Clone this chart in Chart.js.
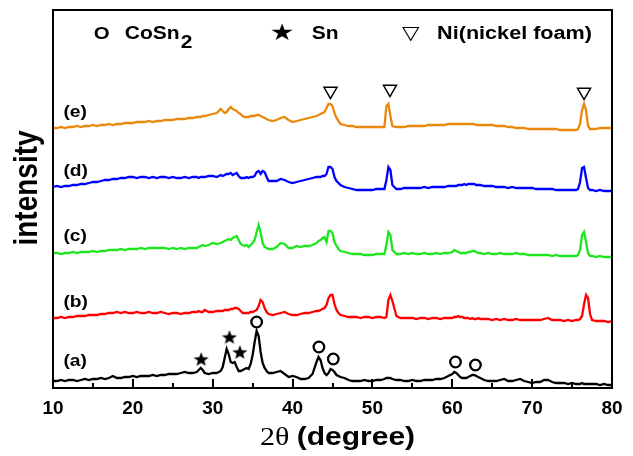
<!DOCTYPE html>
<html>
<head>
<meta charset="utf-8">
<script src="https://cdn.jsdelivr.net/npm/chart.js@4/dist/chart.umd.min.js"></script>
<style>
  html, body { margin: 0; padding: 0; background: #fff; }
</style>
</head>
<body>
<canvas id="xrd" width="633" height="456"></canvas>
<script>
// 2-theta grid (degrees), finer around the peaks
const twoTheta = [
  10,10.5,11,11.5,12,12.5,13,13.5,14,14.5,15,15.5,16,16.5,17,17.5,18,18.5,19,19.5,20,20.5,21,21.5,22,22.5,23,23.5,24,24.5,25,25.5,26,26.5,27,27.5,
  28,28.25,28.5,28.75,29,
  29.5,30,30.5,
  31,31.25,31.5,31.75,32,32.25,32.5,32.75,33,33.25,33.5,33.75,34,34.25,34.5,34.75,35,35.25,35.5,35.75,36,36.25,36.5,36.75,37,
  37.5,38,38.5,39,39.5,40,40.5,41,41.5,42,42.5,
  43,43.25,43.5,43.75,44,44.25,44.5,44.75,45,45.25,45.5,45.75,46,
  46.5,47,47.5,48,48.5,49,49.5,50,50.5,51,51.5,
  51.75,52,52.25,52.5,
  53,53.5,54,54.5,55,55.5,56,56.5,57,57.5,58,58.5,59,59.5,
  60,60.25,60.5,60.75,61,61.25,61.5,61.75,62,62.25,62.5,62.75,63,63.25,63.5,
  64,64.5,65,65.5,66,66.5,67,67.5,68,68.5,69,69.5,70,70.5,71,71.5,72,72.5,73,73.5,74,74.5,75,75.5,
  75.75,76,76.25,76.5,76.75,77,77.25,
  77.5,78,78.5,79,79.5,80
];

// stacked intensities (a.u., already offset)
const seriesA = [
  7,7,8,7,8,8,7,8,9,8,9,9,10,9,10,12,10,10,11,11,12,11,12,12,12,13,12,13,13,14,14,14,15,16,15,15,
  16,18,20,18,15,
  14,15,15,
  17,21,30,39,34,26,25,26,21,17,17,18,19,20,19,24,33,46,57,52,36,25,20,17,15,
  15,16,17,14,11,12,11,9,9,10,14,
  26,31,28,20,15,13,15,19,18,16,13,12,11,
  10,8,7,7,7,8,7,7,8,8,9,
  10,10,10,9,
  8,8,7,7,8,7,7,8,8,8,9,9,10,12,
  14,16,15,13,11,10,10,10,11,12,13,13,12,11,10,
  8,7,7,7,8,9,7,7,8,9,7,6,5,6,6,8,8,6,5,5,5,4,5,4,
  4,4,5,4,4,4,4,
  4,4,3,4,3,3
];
const seriesB = [
  70,70,71,70,71,71,72,72,72,73,73,73,74,74,75,75,76,75,76,75,75,76,75,75,76,75,75,76,75,74,75,75,74,75,75,76,
  76,77,76,76,78,
  76,76,77,
  77,77,78,78,78,79,79,80,80,79,77,75,75,75,75,76,76,77,78,82,88,86,80,76,74,
  73,74,75,76,74,73,73,74,75,75,76,
  77,77,78,79,80,83,90,93,93,84,78,75,73,
  72,71,71,71,70,71,71,70,71,71,70,
  71,88,93,87,
  72,70,70,70,70,69,70,70,69,70,70,69,70,70,
  70,71,71,72,71,71,70,70,70,69,70,69,69,70,69,
  69,69,68,69,68,69,68,68,69,68,68,68,68,68,68,69,70,68,68,68,67,68,67,68,
  68,69,72,84,93,90,74,
  68,67,67,67,66,67
];
const seriesC = [
  135,135,134,135,135,136,135,136,136,136,137,136,137,137,138,138,138,139,138,139,139,139,140,139,140,140,140,140,140,139,140,139,140,139,140,140,
  140,141,142,143,142,
  143,145,144,
  145,146,147,148,149,148,150,151,152,148,144,143,142,143,141,143,145,148,156,163,155,145,141,140,139,
  139,141,145,144,140,140,142,141,142,142,143,
  145,147,148,150,151,146,157,157,155,146,142,139,137,
  136,135,134,134,134,133,133,133,134,134,134,
  143,156,153,138,
  134,134,135,134,135,134,134,135,134,134,135,134,135,135,
  136,138,137,136,135,135,135,135,136,136,137,137,136,135,135,
  134,135,134,134,135,134,134,134,135,134,134,133,133,133,133,133,133,132,133,132,132,132,132,132,
  133,138,153,156,146,135,132,
  132,131,132,131,131,131
];
const seriesD = [
  201,202,201,202,202,203,203,204,204,205,206,206,207,208,208,209,209,210,210,211,211,210,211,211,210,211,210,211,211,210,211,210,210,211,210,211,
  211,210,211,211,211,
  212,212,211,
  213,212,213,214,214,215,213,214,215,212,210,210,210,211,210,211,211,212,216,217,214,217,216,211,207,
  207,207,209,208,206,205,206,207,208,209,210,
  211,211,211,212,212,214,221,221,219,211,207,205,203,
  201,200,199,198,198,198,198,198,199,199,199,
  208,221,218,203,
  199,199,200,200,200,200,200,201,200,201,201,201,201,202,
  202,202,202,203,203,203,204,203,204,204,204,204,203,203,203,
  202,202,202,201,201,201,200,201,200,200,200,200,200,199,199,199,199,199,198,198,198,198,198,198,
  199,206,220,221,210,200,198,
  198,197,198,197,197,197
];
const seriesE = [
  260,260,261,260,261,261,262,261,262,262,263,262,263,263,264,263,264,264,265,265,265,266,266,266,267,266,267,267,268,268,268,269,269,269,270,270,
  271,271,271,272,272,
  273,274,275,
  279,277,275,276,279,281,279,278,277,275,274,272,271,271,271,272,272,272,273,273,272,271,270,269,268,
  267,268,270,271,268,266,267,268,269,270,271,
  272,273,274,275,276,280,284,284,282,275,270,267,264,
  263,262,262,261,261,261,261,261,261,261,261,
  282,284,272,262,
  261,261,261,262,262,262,262,262,263,263,263,263,263,264,
  264,264,264,264,264,264,264,264,264,264,264,264,263,263,263,
  263,263,263,262,262,262,261,261,260,260,260,259,259,259,259,259,259,259,259,258,258,258,258,258,
  259,264,278,284,278,262,259,
  259,259,260,260,260,260
];

const seriesNames = ['(a)', '(b)', '(c)', '(d)', '(e)'];
const seriesColors = ['#000000', '#ff0000', '#1ee61e', '#0000ff', '#e8890c'];
const labelTheta = 11.3;
const labelHeights = [26, 85, 151, 216, 275];

// phase markers above the peaks
const cosn2Theta = [35.5, 43.3, 45.1, 60.4, 62.9];
const cosn2Height = [66, 41, 29, 26, 23];
const snTheta = [28.55, 32.1, 33.4];
const snHeight = [29, 51, 36];
const niTheta = [44.75, 52.2, 76.5];
const niHeight = [297, 299, 296];

// legend row (2-theta positions, height)
const legendHeight = 354;
const legendTheta = { circle: 15.1, cosn2: 19.0, star: 38.7, sn: 42.4, tri: 54.8, ni: 58.1 };

const xTicks = [10, 15, 20, 25, 30, 35, 40, 45, 50, 55, 60, 65, 70, 75, 80];

const SANS = "'Liberation Sans', Arial, sans-serif";
const STRETCH = 1.2; // the source figure is a bit wide

function pts(xs, ys) {
  return xs.map((v, i) => ({ x: v, y: ys[i] }));
}

// draw text stretched along x
function wideText(ctx, text, x, y, sx) {
  ctx.save();
  ctx.translate(x, y);
  ctx.scale(sx, 1);
  ctx.fillText(text, 0, 0);
  ctx.restore();
  return ctx.measureText(text).width * sx;
}

// filled five-point star as point image
function starImage(w, h) {
  const c = document.createElement('canvas');
  c.width = w; c.height = h;
  const g = c.getContext('2d');
  const cx = w / 2, cy = h / 2 + 0.8;
  g.beginPath();
  for (let i = 0; i < 10; i++) {
    const ang = -Math.PI / 2 + i * Math.PI / 5;
    const k = i % 2 === 0 ? 1 : 0.42;
    g.lineTo(cx + k * (w / 2) * Math.cos(ang), cy + k * (h / 2) * Math.sin(ang));
  }
  g.closePath();
  g.fillStyle = '#000';
  g.fill();
  return c;
}

const series = [seriesA, seriesB, seriesC, seriesD, seriesE];
const lineSets = series.map((s, i) => ({
  type: 'line',
  label: seriesNames[i],
  data: pts(twoTheta, s),
  borderColor: seriesColors[i],
  borderWidth: 2.3,
  pointRadius: 0,
  tension: 0,
  fill: false
}));

const markerSets = [
  {
    type: 'scatter', label: 'CoSn2', data: pts(cosn2Theta, cosn2Height),
    pointStyle: 'circle', pointRadius: 5.3, borderWidth: 2.3,
    borderColor: '#000', backgroundColor: '#fff'
  },
  {
    type: 'scatter', label: 'Sn', data: pts(snTheta, snHeight),
    pointStyle: starImage(16, 15), pointRadius: 8
  },
  {
    type: 'scatter', label: 'Ni', data: pts(niTheta, niHeight),
    pointStyle: 'triangle', rotation: 180, pointRadius: 7.5, borderWidth: 1.5,
    borderColor: '#000', backgroundColor: '#fff'
  }
];

const decorations = {
  id: 'decorations',
  afterDatasetsDraw(chart) {
    const { ctx, chartArea: a, scales: { x, y } } = chart;
    ctx.save();
    ctx.strokeStyle = '#000';
    ctx.lineWidth = 2;
    ctx.strokeRect(a.left, a.top, a.right - a.left, a.bottom - a.top);

    // ticks point up, inside the frame
    xTicks.forEach(v => {
      const px = Math.round(x.getPixelForValue(v));
      const len = v % 10 === 0 ? 9 : 5;
      ctx.beginPath();
      ctx.moveTo(px, a.bottom);
      ctx.lineTo(px, a.bottom - len);
      ctx.stroke();
    });

    ctx.fillStyle = '#000';
    ctx.textBaseline = 'middle';
    ctx.textAlign = 'left';
    ctx.font = 'bold 16px ' + SANS;
    seriesNames.forEach((t, i) => {
      wideText(ctx, t, x.getPixelForValue(labelTheta), y.getPixelForValue(labelHeights[i]), STRETCH);
    });

    // legend row
    const ly = y.getPixelForValue(legendHeight);
    ctx.font = 'bold 17px ' + SANS;
    wideText(ctx, 'O', x.getPixelForValue(legendTheta.circle), ly, STRETCH);
    ctx.font = 'bold 17.5px ' + SANS;
    const cx0 = x.getPixelForValue(legendTheta.cosn2);
    const wCo = wideText(ctx, 'CoSn', cx0, ly, STRETCH);
    wideText(ctx, '2', cx0 + wCo + 1, ly + 9, STRETCH);
    wideText(ctx, 'Sn', x.getPixelForValue(legendTheta.sn), ly, STRETCH);
    ctx.font = 'bold 18px ' + SANS;
    wideText(ctx, 'Ni(nickel foam)', x.getPixelForValue(legendTheta.ni), ly, STRETCH);
    ctx.textAlign = 'center';
    ctx.font = '23px DejaVu Sans';
    wideText(ctx, '\u2605', x.getPixelForValue(legendTheta.star), ly, STRETCH);
    ctx.font = '19px DejaVu Sans';
    wideText(ctx, '\u25BD', x.getPixelForValue(legendTheta.tri), ly, STRETCH);

    // y title, rotated
    ctx.save();
    ctx.translate(a.left - 25, y.getPixelForValue(200));
    ctx.rotate(-Math.PI / 2);
    ctx.scale(1, STRETCH);
    ctx.font = 'bold 28px ' + SANS;
    ctx.textAlign = 'center';
    ctx.fillText('intensity', 0, 0);
    ctx.restore();

    // x title: serif 2θ + bold sans (degree)
    const part1 = '2\u03B8 ';
    const part2 = '(degree)';
    ctx.textAlign = 'left';
    ctx.font = "25px 'Liberation Serif', serif";
    const w1 = ctx.measureText(part1).width * STRETCH;
    ctx.font = 'bold 25px ' + SANS;
    const w2 = ctx.measureText(part2).width * STRETCH;
    const tx = (a.left + a.right) / 2 + 5 - (w1 + w2) / 2;
    const ty = a.bottom + 50;
    ctx.font = "25px 'Liberation Serif', serif";
    wideText(ctx, part1, tx, ty, STRETCH);
    ctx.font = 'bold 25px ' + SANS;
    wideText(ctx, part2, tx + w1, ty, STRETCH);
    ctx.restore();
  }
};

new Chart(document.getElementById('xrd'), {
  data: { datasets: [...lineSets, ...markerSets] },
  options: {
    responsive: false,
    animation: false,
    layout: { padding: { top: 10, right: 21, left: 0, bottom: 0 } },
    plugins: { legend: { display: false }, tooltip: { enabled: false } },
    scales: {
      x: {
        type: 'linear', min: 10, max: 80,
        grid: { display: false, drawTicks: false },
        border: { display: false },
        ticks: {
          stepSize: 10, padding: 9, color: '#000',
          font: { family: SANS, size: 19, weight: 'bold' }
        },
        afterFit: s => { s.height = 68; }
      },
      y: {
        min: 0, max: 378,
        grid: { display: false, drawTicks: false },
        border: { display: false },
        ticks: { display: false },
        afterFit: s => { s.width = 53; }
      }
    }
  },
  plugins: [decorations]
});
</script>
</body>
</html>
